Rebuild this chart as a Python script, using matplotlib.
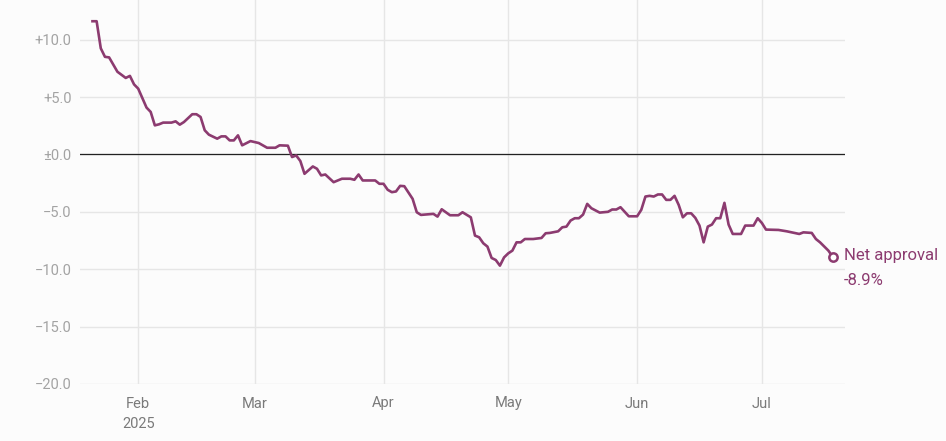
import matplotlib
matplotlib.use("Agg")
import matplotlib.pyplot as plt
import pandas as pd

dates = [
    "2025-01-21", "2025-01-22", "2025-01-23", "2025-01-24", "2025-01-25", "2025-01-27",
    "2025-01-29", "2025-01-30", "2025-01-31", "2025-02-01", "2025-02-03", "2025-02-04",
    "2025-02-05", "2025-02-06", "2025-02-07", "2025-02-09", "2025-02-10", "2025-02-11",
    "2025-02-12", "2025-02-14", "2025-02-15", "2025-02-16", "2025-02-17", "2025-02-18",
    "2025-02-20", "2025-02-21", "2025-02-22", "2025-02-23", "2025-02-24", "2025-02-25",
    "2025-02-26", "2025-02-28", "2025-03-02", "2025-03-04", "2025-03-06", "2025-03-07",
    "2025-03-09", "2025-03-10", "2025-03-11", "2025-03-12", "2025-03-13", "2025-03-15",
    "2025-03-16", "2025-03-17", "2025-03-18", "2025-03-20", "2025-03-22", "2025-03-24",
    "2025-03-25", "2025-03-26", "2025-03-27", "2025-03-30", "2025-03-31", "2025-04-01",
    "2025-04-02", "2025-04-03", "2025-04-04", "2025-04-05", "2025-04-06", "2025-04-08",
    "2025-04-09", "2025-04-10", "2025-04-13", "2025-04-14", "2025-04-15", "2025-04-17",
    "2025-04-19", "2025-04-20", "2025-04-22", "2025-04-23", "2025-04-24", "2025-04-25",
    "2025-04-26", "2025-04-27", "2025-04-28", "2025-04-29", "2025-04-30", "2025-05-01",
    "2025-05-02", "2025-05-03", "2025-05-04", "2025-05-05", "2025-05-07", "2025-05-09",
    "2025-05-10", "2025-05-11", "2025-05-13", "2025-05-14", "2025-05-15", "2025-05-16",
    "2025-05-17", "2025-05-18", "2025-05-19", "2025-05-20", "2025-05-21", "2025-05-23",
    "2025-05-25", "2025-05-26", "2025-05-27", "2025-05-28", "2025-05-30", "2025-06-01",
    "2025-06-02", "2025-06-03", "2025-06-04", "2025-06-05", "2025-06-06", "2025-06-07",
    "2025-06-08", "2025-06-09", "2025-06-10", "2025-06-11", "2025-06-12", "2025-06-13",
    "2025-06-14", "2025-06-15", "2025-06-16", "2025-06-17", "2025-06-18", "2025-06-19",
    "2025-06-20", "2025-06-21", "2025-06-22", "2025-06-23", "2025-06-24", "2025-06-26",
    "2025-06-27", "2025-06-29", "2025-06-30", "2025-07-01", "2025-07-02", "2025-07-05",
    "2025-07-07", "2025-07-10", "2025-07-11", "2025-07-13", "2025-07-14", "2025-07-15",
    "2025-07-17", "2025-07-18",
]
net_approval = [
    11.6, 11.6, 9.24, 8.5, 8.45, 7.2,
    6.66, 6.84, 6.1, 5.73, 4.08, 3.7,
    2.53, 2.62, 2.77, 2.77, 2.88, 2.59,
    2.82, 3.5, 3.5, 3.26, 2.1, 1.72,
    1.37, 1.57, 1.57, 1.22, 1.22, 1.66,
    0.79, 1.16, 0.99, 0.58, 0.58, 0.79,
    0.76, -0.23, -0.09, -0.58, -1.69, -1.05,
    -1.25, -1.83, -1.75, -2.42, -2.12, -2.12,
    -2.21, -1.75, -2.27, -2.27, -2.56, -2.56,
    -3.08, -3.29, -3.23, -2.74, -2.77, -3.87,
    -5.04, -5.27, -5.18, -5.42, -4.78, -5.3,
    -5.3, -5.04, -5.48, -7.07, -7.22, -7.74,
    -8.03, -9.02, -9.2, -9.69, -8.97, -8.62,
    -8.38, -7.66, -7.66, -7.37, -7.37, -7.28,
    -6.87, -6.84, -6.7, -6.35, -6.29, -5.76,
    -5.56, -5.56, -5.24, -4.31, -4.69, -5.07,
    -5.0, -4.8, -4.8, -4.6, -5.39, -5.39,
    -4.83, -3.67, -3.61, -3.67, -3.49, -3.49,
    -3.96, -3.96, -3.61, -4.4, -5.48, -5.13,
    -5.13, -5.53, -6.2, -7.66, -6.29, -6.11,
    -5.56, -5.56, -4.22, -6.11, -6.93, -6.93,
    -6.2, -6.2, -5.56, -5.97, -6.55, -6.58,
    -6.7, -6.93, -6.79, -6.84, -7.37, -7.66,
    -8.38, -8.9,
]
y_ticks = [10, 5, 0, -5, -10, -15, -20]
y_tick_labels = ["+10.0", "+5.0", "\u00b10.0", "\u22125.0", "\u221210.0", "\u221215.0", "\u221220.0"]
x_tick_dates = ["2025-02-01", "2025-03-01", "2025-04-01", "2025-05-01", "2025-06-01", "2025-07-01"]
x_tick_labels = ["Feb\n2025", "Mar", "Apr", "May", "Jun", "Jul"]
series_label = "Net approval"
last_label = "-8.9%"

plt.rcParams["font.family"] = ["Roboto", "DejaVu Sans"]

LINE = "#8c3b70"
BG = "#fcfcfc"
GRID = "#e6e6e6"

x = pd.to_datetime(dates)
fig = plt.figure(figsize=(9.46, 4.41), dpi=100, facecolor=BG)
ax = fig.add_axes([80 / 946, 1 - 384 / 441, (845 - 80) / 946, 384 / 441])
ax.set_facecolor(BG)

ax.set_xlim(pd.Timestamp("2025-01-18"), pd.Timestamp("2025-07-21"))
ax.set_ylim(-20, 13.45)

ax.set_yticks(y_ticks)
ax.set_yticklabels(y_tick_labels)
ax.set_xticks(pd.to_datetime(x_tick_dates))
ax.set_xticklabels(x_tick_labels)

for s in ax.spines.values():
    s.set_visible(False)
ax.tick_params(axis="both", length=0)
ax.tick_params(axis="y", pad=6, labelsize=10.5, labelcolor="#a3a3a3")
ax.tick_params(axis="x", pad=9, labelsize=10.5, labelcolor="#7a7a7a")
for lbl in ax.get_xticklabels():
    lbl.set_linespacing(1.6)

ax.grid(True, color=GRID, linewidth=1.0)
ax.set_axisbelow(True)
ax.axhline(0, color="#222222", linewidth=0.9, zorder=2)

ax.plot(x, net_approval, color=LINE, linewidth=1.9, zorder=3, solid_joinstyle="round")
ax.plot(x[-1], net_approval[-1], marker="o", markersize=6, markerfacecolor="white",
        markeredgecolor=LINE, markeredgewidth=1.8, zorder=4)
ax.annotate(series_label, xy=(x[-1], net_approval[-1]),
            xytext=(8, 0.5), textcoords="offset points", ha="left", va="center",
            fontsize=12, color=LINE, annotation_clip=False)
ax.annotate(last_label, xy=(x[-1], net_approval[-1]),
            xytext=(8, -17), textcoords="offset points", ha="left", va="center",
            fontsize=12, color=LINE, annotation_clip=False)

fig.savefig("out.png", dpi=100, facecolor=BG)
